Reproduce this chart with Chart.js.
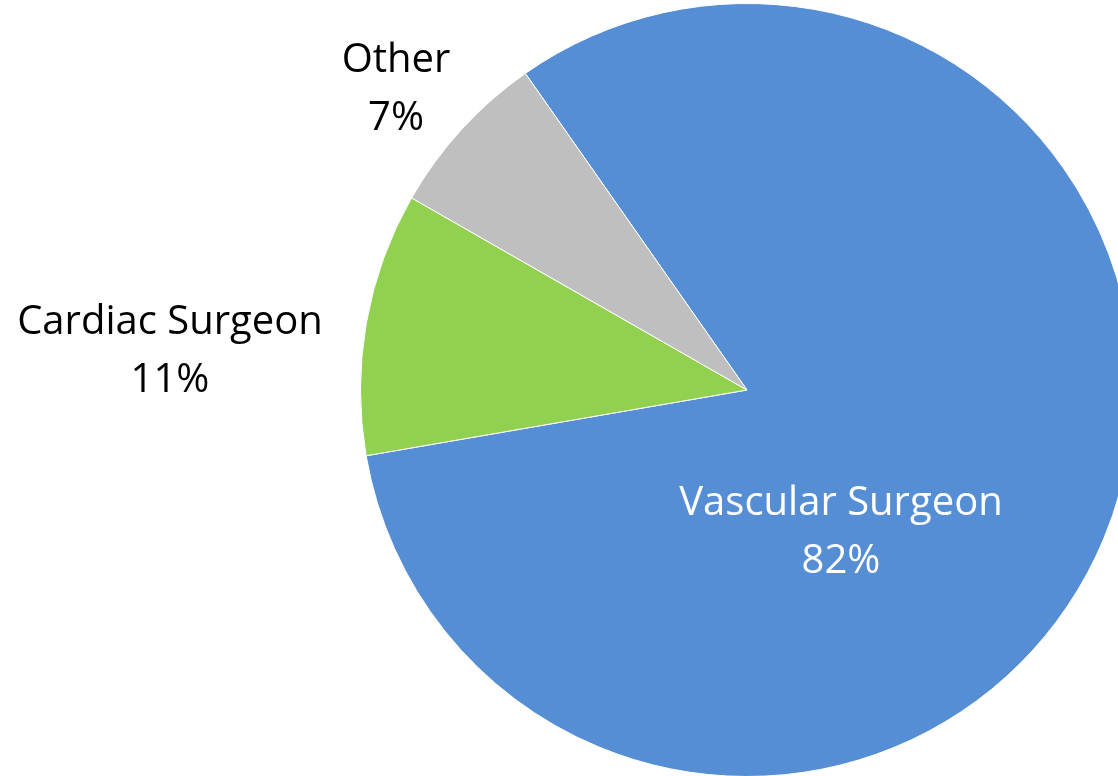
<!DOCTYPE html>
<html>
<head>
<meta charset="utf-8">
<script src="https://cdn.jsdelivr.net/npm/chart.js@4"></script>
<style>
  html, body { margin: 0; padding: 0; background: #fff; overflow: hidden; width: 1118px; height: 776px; }
  #wrap { position: absolute; left: 0; top: 0; width: 1494px; height: 780px; }
</style>
</head>
<body>
<div id="wrap"><canvas id="pie" width="1494" height="780"></canvas></div>
<script>
// data
const categories = ['Vascular Surgeon', 'Cardiac Surgeon', 'Other'];
const shares = [82, 11, 7];
const sliceColors = ['#558ED5', '#92D050', '#BFBFBF'];
const labelColors = ['#FFFFFF', '#000000', '#000000'];
// label anchor (center x, first-line baseline) per slice
const labelAnchors = [[841, 515], [170, 334], [396, 72]];

const pieLabels = {
    id: 'pieLabels',
    afterDatasetsDraw(chart) {
        const ctx = chart.ctx;
        ctx.save();
        ctx.font = '40px "Open Sans", sans-serif';
        ctx.textAlign = 'center';
        ctx.textBaseline = 'alphabetic';
        categories.forEach((name, i) => {
            const [x, y] = labelAnchors[i];
            ctx.fillStyle = labelColors[i];
            ctx.fillText(name, x, y);
            ctx.fillText(shares[i] + '%', x, y + 58);
        });
        ctx.restore();
    }
};

new Chart(document.getElementById('pie'), {
    type: 'pie',
    data: {
        labels: categories,
        datasets: [{
            data: shares,
            backgroundColor: sliceColors,
            borderColor: '#FFFFFF',
            borderWidth: 1
        }]
    },
    options: {
        responsive: false,
        animation: false,
        rotation: -35,
        layout: { padding: { top: 3, bottom: 3, left: 0, right: 0 } },
        plugins: { legend: { display: false }, tooltip: { enabled: false } }
    },
    plugins: [pieLabels]
});
</script>
</body>
</html>
